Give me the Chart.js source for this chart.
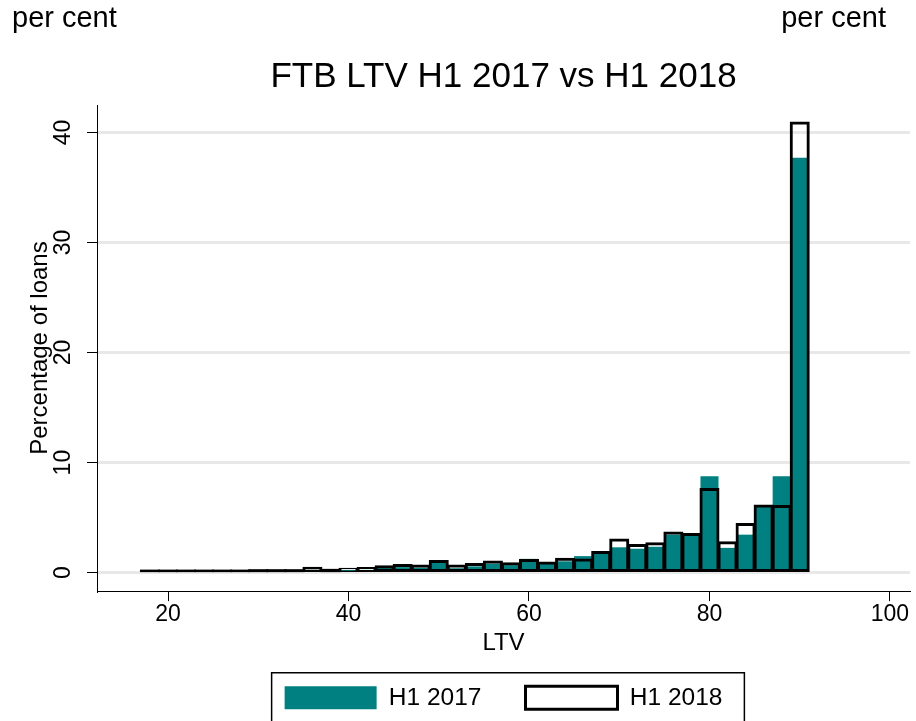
<!DOCTYPE html>
<html>
<head>
<meta charset="utf-8">
<title>FTB LTV H1 2017 vs H1 2018</title>
<script src="https://cdn.jsdelivr.net/npm/chart.js@4.4.1/dist/chart.umd.min.js"></script>
<style>
  html, body { margin: 0; padding: 0; background: #fff; }
  #wrap { width: 916px; height: 721px; }
</style>
</head>
<body>
<div id="wrap"><canvas id="ltvChart" width="916" height="721"></canvas></div>
<script>
  // LTV bins (2 points wide, labelled by their centre)
  const ltvBins = [18, 20, 22, 24, 26, 28, 30, 32, 34, 36, 38, 40, 42, 44, 46, 48, 50, 52, 54,
                   56, 58, 60, 62, 64, 66, 68, 70, 72, 74, 76, 78, 80, 82, 84, 86, 88, 90];
  // percentage of first-time-buyer loans in each bin
  const share2017 = [0.08, 0.12, 0.12, 0.12, 0.12, 0.12, 0.2, 0.2, 0.2, 0.25, 0.2, 0.25, 0.25, 0.45,
                     0.5, 0.45, 0.9, 0.4, 0.57, 0.82, 0.68, 1.25, 0.9, 1.03, 1.5, 1.85, 2.3, 2.17,
                     2.35, 3.45, 3.45, 8.75, 2.25, 3.45, 6.1, 8.75, 37.7];
  const share2018 = [0.1, 0.15, 0.15, 0.15, 0.15, 0.15, 0.22, 0.22, 0.22, 0.45, 0.25, 0.35, 0.42, 0.57,
                     0.7, 0.64, 1.06, 0.64, 0.79, 1.0, 0.85, 1.15, 0.91, 1.27, 1.2, 1.88, 3.0, 2.5,
                     2.68, 3.65, 3.5, 7.6, 2.75, 4.42, 6.1, 6.05, 40.9];
  const xTicks = [20, 40, 60, 80, 100];
  const yTicks = [0, 10, 20, 30, 40];

  const FONT = "'Liberation Sans', Arial, sans-serif";
  const teal = '#008080';

  // outline bars too short to show a hollow box are drawn solid black, as Stata's thick stroke does
  const isSliver = (c) => c.raw && c.raw.y < 0.3;

  // "per cent" captions over both ends of the plot
  const cornerNotes = {
    id: 'cornerNotes',
    afterDraw(chart) {
      const ctx = chart.ctx;
      ctx.save();
      ctx.fillStyle = '#000';
      ctx.font = '29px ' + FONT;
      ctx.textBaseline = 'alphabetic';
      ctx.textAlign = 'left';
      ctx.fillText('per cent', 12, 27);
      ctx.textAlign = 'right';
      ctx.fillText('per cent', 886, 27);
      ctx.restore();
    }
  };

  // frame round the legend, like the Stata output
  const legendFrame = {
    id: 'legendFrame',
    afterDraw(chart) {
      const boxes = chart.legend && chart.legend.legendHitBoxes;
      if (!boxes || !boxes.length) return;
      const first = boxes[0];
      const last = boxes[boxes.length - 1];
      const cy = first.top + first.height / 2;
      const ctx = chart.ctx;
      ctx.save();
      ctx.strokeStyle = '#000';
      ctx.lineWidth = 1.5;
      ctx.strokeRect(first.left - 13, cy - 25, last.left + last.width - first.left + 35, 80);
      ctx.restore();
    }
  };

  const ctx = document.getElementById('ltvChart').getContext('2d');
  new Chart(ctx, {
    type: 'bar',
    data: {
      datasets: [{
        label: 'H1 2017',
        data: ltvBins.map((b, i) => ({ x: b, y: share2017[i] })),
        backgroundColor: teal,
        borderWidth: 0,
        inflateAmount: 0,
        order: 2
      }, {
        label: 'H1 2018',
        data: ltvBins.map((b, i) => ({ x: b, y: share2018[i] })),
        backgroundColor: (c) => isSliver(c) ? '#000' : 'rgba(255,255,255,0)',
        borderColor: '#000',
        borderWidth: (c) => isSliver(c) ? 0 : 1,
        inflateAmount: 1,
        minBarLength: 2,
        borderSkipped: false,
        order: 1
      }]
    },
    options: {
      responsive: false,
      devicePixelRatio: 1,
      animation: false,
      grouped: false,
      categoryPercentage: 1,
      barPercentage: 1,
      layout: { padding: { left: 0, right: 6, top: 0, bottom: 1 } },
      scales: {
        x: {
          type: 'linear',
          offset: false,
          min: 12.13,
          max: 102.22,
          afterBuildTicks: (axis) => { axis.ticks = xTicks.map(v => ({ value: v })); },
          grid: { drawOnChartArea: false, offset: false, tickLength: 10, tickColor: '#000', tickWidth: 1 },
          border: { display: true, color: '#000', width: 1 },
          ticks: { color: '#000', font: { family: FONT, size: 23 }, padding: 0, maxRotation: 0 },
          title: { display: true, text: 'LTV', color: '#000', font: { family: FONT, size: 24 },
                   padding: { top: 0, bottom: -16 } }
        },
        y: {
          min: -1.68,
          max: 42.5,
          afterBuildTicks: (axis) => { axis.ticks = yTicks.map(v => ({ value: v })); },
          afterFit: (axis) => { axis.width = 97; },
          grid: { color: '#e8e8e8', lineWidth: 3, tickLength: 10, tickColor: '#000', tickWidth: 1 },
          border: { display: true, color: '#000', width: 1 },
          ticks: { color: '#000', font: { family: FONT, size: 23 }, padding: 11,
                   minRotation: 90, maxRotation: 90, crossAlign: 'center' },
          title: { display: true, text: 'Percentage of loans', color: '#000',
                   font: { family: FONT, size: 24 }, padding: { top: 26, bottom: 0 } }
        }
      },
      plugins: {
        tooltip: { enabled: false },
        title: {
          display: true,
          fullSize: false,
          text: 'FTB LTV H1 2017 vs H1 2018',
          color: '#000',
          font: { family: FONT, size: 35, weight: 'normal' },
          padding: { top: 56, bottom: 7 }
        },
        legend: {
          position: 'bottom',
          fullSize: false,
          labels: {
            color: '#000',
            font: { family: FONT, size: 24.5 },
            boxWidth: 92,
            boxHeight: 23,
            padding: 44,
            generateLabels(chart) {
              const items = Chart.defaults.plugins.legend.labels.generateLabels(chart);
              items.sort((a, b) => a.datasetIndex - b.datasetIndex);
              items[0].fillStyle = teal;
              items[0].lineWidth = 0;
              items[1].fillStyle = '#fff';
              items[1].strokeStyle = '#000';
              items[1].lineWidth = 3;
              return items;
            }
          }
        }
      }
    },
    plugins: [cornerNotes, legendFrame]
  });
</script>
</body>
</html>
